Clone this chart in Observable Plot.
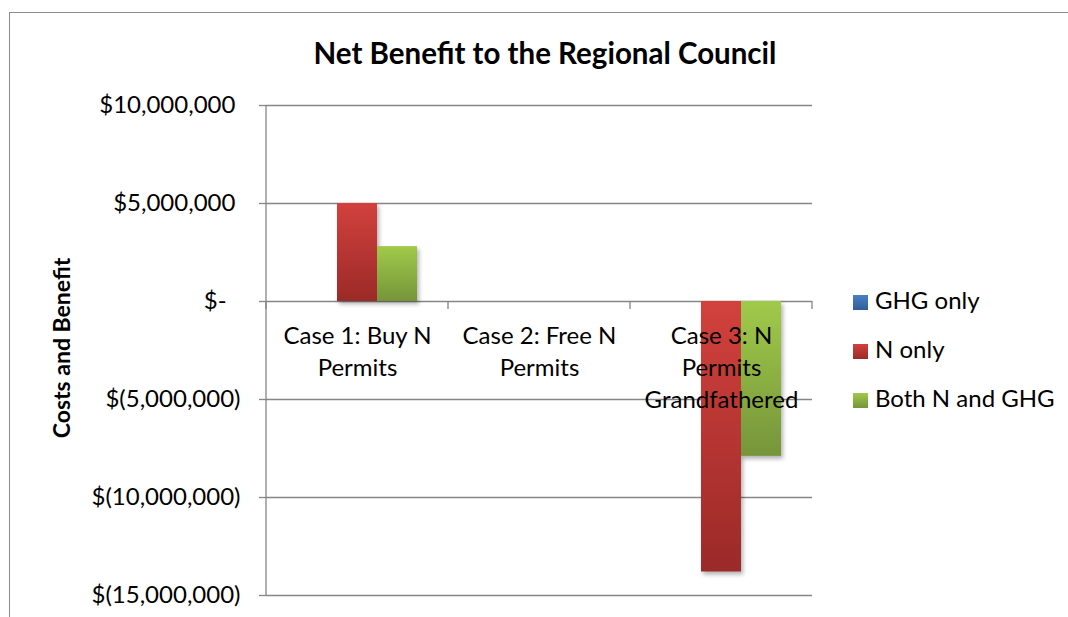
<!DOCTYPE html>
<html>
<head>
<meta charset="utf-8">
<script src="https://cdn.jsdelivr.net/npm/d3@7"></script>
<script src="https://cdn.jsdelivr.net/npm/@observablehq/plot@0.6"></script>
<style>
  html, body { margin: 0; padding: 0; background: #fff; }
  #wrap { position: relative; width: 1068px; height: 617px; overflow: hidden; font-family: Lato, "Open Sans", sans-serif; color: #000; }
  #border { position: absolute; left: 9px; top: 12px; width: 1200px; height: 800px; border: 1.5px solid #8c8c8c; box-sizing: border-box; }
  #chart { position: absolute; left: 0; top: 0; }
  #title { position: absolute; left: 0; width: 1090px; top: 37px; text-align: center; font-weight: bold; font-size: 29.5px; line-height: 32px; }
  #ytitle { position: absolute; left: 61px; top: 348px; transform: translate(-50%, -50%) rotate(-90deg); font-weight: bold; font-size: 23px; white-space: nowrap; }
  #legend { position: absolute; left: 853px; top: 0; }
  .item { position: absolute; left: 0; white-space: nowrap; font-size: 24px; }
  .sw { position: absolute; left: 0; width: 15px; height: 15px; }
  .lab { position: absolute; left: 22px; line-height: 24px; }
</style>
</head>
<body>
<div id="wrap">
  <div id="border"></div>
  <div id="chart"></div>
  <div id="title"></div>
  <div id="ytitle"></div>
  <div id="legend"></div>
</div>
<svg width="0" height="0" style="position:absolute">
  <defs>
    <linearGradient id="gBlue" x1="0" y1="0" x2="0" y2="1">
      <stop offset="0" stop-color="#4a7fc4"/><stop offset="1" stop-color="#2f5d98"/>
    </linearGradient>
    <linearGradient id="gRed" x1="0" y1="0" x2="0" y2="1">
      <stop offset="0" stop-color="#d2413d"/><stop offset="1" stop-color="#9b2a28"/>
    </linearGradient>
    <linearGradient id="gGreen" x1="0" y1="0" x2="0" y2="1">
      <stop offset="0" stop-color="#a0ca4a"/><stop offset="1" stop-color="#76953a"/>
    </linearGradient>
  </defs>
</svg>
<script>
// ---- data ----
const titleText = "Net Benefit to the Regional Council";
const yAxisTitle = "Costs and Benefit";
const categories = ["Case 1: Buy N Permits", "Case 2: Free N Permits", "Case 3: N Permits Grandfathered"];
const categoryLines = [["Case 1: Buy N", "Permits"], ["Case 2: Free N", "Permits"], ["Case 3: N", "Permits", "Grandfathered"]];
const seriesNames = ["GHG only", "N only", "Both N and GHG"];
const ghgOnly = [0, 0, 0];
const nOnly = [5000000, 0, -13800000];
const bothNandGHG = [2800000, 0, -7900000];
const yTicks = [10000000, 5000000, 0, -5000000, -10000000, -15000000];
const seriesFills = ["url(#gBlue)", "url(#gRed)", "url(#gGreen)"];
const legendSwatches = ["linear-gradient(#4a7fc4,#2f5d98)", "linear-gradient(#d2413d,#9b2a28)", "linear-gradient(#a0ca4a,#76953a)"];

const seriesValues = [ghgOnly, nOnly, bothNandGHG];
const rows = [];
categories.forEach((c, i) => seriesNames.forEach((s, j) => rows.push({category: c, series: s, value: seriesValues[j][i]})));

const fmt = d3.format(",");
const tickFormat = d => d === 0 ? "$-\u2007" : d < 0 ? `$(${fmt(-d)})` : `$${fmt(d)}\u2008`;

const chart = Plot.plot({
  width: 1068,
  height: 617,
  marginLeft: 265,
  marginRight: 256,
  marginTop: 105,
  marginBottom: 22,
  style: {fontFamily: "Lato, 'Open Sans', sans-serif", fontSize: "24px", color: "#000", background: "transparent", overflow: "visible"},
  fx: {domain: categories, padding: 0, axis: null, label: null},
  x: {domain: seriesNames, paddingInner: 0, paddingOuter: 0.73, axis: null, label: null},
  y: {domain: [-15000000, 10000000], axis: null, label: null},
  color: {domain: seriesNames, range: seriesFills},
  marks: [
    Plot.gridY(yTicks, {stroke: "#868686", strokeOpacity: 1, strokeWidth: 1.3}),
    Plot.barY(rows, {fx: "category", x: "series", y: "value", fill: "series",
      imageFilter: "drop-shadow(2px 3px 2px rgba(0,0,0,0.3))"}),
    Plot.text(categories, {fx: d => d, y: 0, text: d => categoryLines[categories.indexOf(d)].join("\n"),
      lineAnchor: "top", dy: 20, fontSize: 24, lineHeight: 1.33, fill: "#000"}),
    Plot.axisY(yTicks, {tickFormat, tickSize: 7, tickPadding: 19, fontSize: 24, stroke: "#868686", strokeWidth: 1.3, fill: "#000", label: null})
  ]
});
document.getElementById("chart").appendChild(chart);

// y-axis line and category boundary ticks from the plot's own scales
const fx = chart.scale("fx"), y = chart.scale("y");
const svg = d3.select(chart);
const bw = fx.bandwidth;
const x0 = fx.apply(categories[0]);
const y0 = y.apply(0);
const g = svg.append("g").attr("stroke", "#868686").attr("stroke-width", 1.3);
g.append("line").attr("x1", x0).attr("x2", x0).attr("y1", y.apply(yTicks[0])).attr("y2", y.apply(yTicks[yTicks.length - 1]));
categories.concat([null]).forEach((c, i) => {
  const xb = c ? fx.apply(c) : fx.apply(categories[categories.length - 1]) + bw;
  g.append("line").attr("x1", xb).attr("x2", xb).attr("y1", y0).attr("y2", y0 + 8);
});
// bring the category labels above everything
svg.selectAll("g[aria-label='text']").raise();

// titles
document.getElementById("title").textContent = titleText;
document.getElementById("ytitle").textContent = yAxisTitle;

// legend
const legend = document.getElementById("legend");
const legendTops = [295, 344, 393];
seriesNames.forEach((s, i) => {
  const item = document.createElement("div");
  item.className = "item";
  item.style.top = legendTops[i] + "px";
  const sw = document.createElement("div");
  sw.className = "sw";
  sw.style.background = legendSwatches[i];
  const lab = document.createElement("div");
  lab.className = "lab";
  lab.style.top = "-7px";
  lab.textContent = s;
  item.appendChild(sw); item.appendChild(lab);
  legend.appendChild(item);
});
</script>
</body>
</html>
